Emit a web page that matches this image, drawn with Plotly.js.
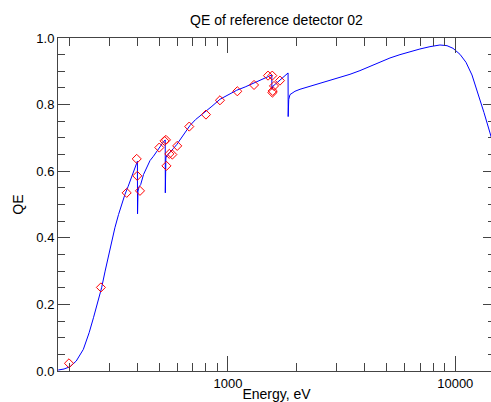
<!DOCTYPE html>
<html>
<head>
<meta charset="utf-8">
<script src="https://cdn.plot.ly/plotly-3.0.1.min.js"></script>
<style>
html,body{margin:0;padding:0;overflow:hidden;background:#fff;}
#chart{width:497px;height:402px;}
</style>
</head>
<body>
<div id="chart"></div>
<script>
// Model QE curve (energy in eV, QE)
var curveEnergy = [179,190,202,215,231,245,256,267,278,288,298,308,318,330,341,352,364,377,390,399.5,
  400,402,406,413,425,440,454,470,486,505,520,529.5,
  530,533,540,548,560,575,595,615,636,658,680,720,760,792,850,922,1000,1092,1190,1292,1400,1504,1559,
  1560,1575,1620,1700,1780,1838,
  1840,1850,1874,1971,2074,2295,2539,2810,3109,3441,3807,4213,4663,5160,5710,6318,6991,7736,8561,9194,9771,10488,11145,11843,12585,13375,14216,14950];
var curveQE = [0.003,0.006,0.013,0.030,0.065,0.115,0.160,0.205,0.250,0.300,0.345,0.390,0.430,0.470,0.503,0.530,0.555,0.585,0.612,0.630,
  0.472,0.540,0.553,0.560,0.590,0.615,0.632,0.645,0.660,0.678,0.688,0.694,
  0.535,0.640,0.648,0.652,0.660,0.668,0.680,0.694,0.709,0.722,0.737,0.755,0.768,0.776,0.795,0.816,0.828,0.843,0.853,0.864,0.876,0.885,0.889,
  0.846,0.855,0.862,0.875,0.888,0.895,
  0.764,0.815,0.830,0.840,0.846,0.855,0.864,0.873,0.881,0.891,0.902,0.915,0.928,0.940,0.950,0.959,0.967,0.974,0.979,0.977,0.969,0.951,0.927,0.889,0.836,0.776,0.715,0.662];

// Measured points
var measEnergy = [199.7,276,358.4,396.7,399,410,498.6,525.5,533.5,536,552,569,598,675.5,800,922,1099,1302,1500,1566,1573,1568,1594,1693];
var measQE = [0.023,0.251,0.535,0.637,0.586,0.541,0.671,0.691,0.694,0.616,0.652,0.650,0.676,0.734,0.770,0.813,0.840,0.859,0.887,0.887,0.841,0.836,0.856,0.872];

var xMajorTicks = [1000, 10000];
var xMajorText = ["1000", "10000"];
var xMinorTicks = [200,300,400,500,600,700,800,900,2000,3000,4000,5000,6000,7000,8000,9000];
var yMajorTicks = [0, 0.2, 0.4, 0.6, 0.8, 1.0];
var yMajorText = ["0.0", "0.2", "0.4", "0.6", "0.8", "1.0"];

var axisColor = '#444';
var fontFam = 'Liberation Sans, Arial, Helvetica, sans-serif';

var traces = [
  {x: curveEnergy, y: curveQE, type: 'scatter', mode: 'lines',
   line: {color: '#0000ff', width: 1}, hoverinfo: 'skip'},
  {x: measEnergy, y: measQE, type: 'scatter', mode: 'markers',
   marker: {symbol: 'diamond-open', size: 7, color: '#ff0000', line: {color: '#ff0000', width: 1}}}
];

var layout = {
  width: 497, height: 402,
  margin: {l: 58, r: 2, t: 38, b: 31, pad: 0},
  paper_bgcolor: '#fff', plot_bgcolor: '#fff',
  showlegend: false,
  font: {family: fontFam, size: 13, color: '#000'},
  title: {text: 'QE of reference detector 02', font: {family: fontFam, size: 14, color: '#000'},
          x: 0.5, xref: 'paper', y: 1 - 20/402, yref: 'container', yanchor: 'middle', xanchor: 'center'},
  xaxis: {
    type: 'log', range: [Math.log10(178.7), Math.log10(14953)],
    showgrid: false, zeroline: false,
    showline: true, linecolor: axisColor, linewidth: 1, mirror: 'allticks',
    ticks: 'inside', ticklen: 15, tickwidth: 1, tickcolor: axisColor,
    tickmode: 'array', tickvals: xMajorTicks, ticktext: xMajorText,
    minor: {tickmode: 'array', tickvals: xMinorTicks, ticks: 'inside', ticklen: 8, tickwidth: 1, tickcolor: axisColor, showgrid: false},
    tickfont: {family: fontFam, size: 13, color: '#000'},
    title: {text: 'Energy, eV', font: {family: fontFam, size: 14, color: '#000'}, standoff: 4},
    automargin: false
  },
  yaxis: {
    range: [0, 1],
    showgrid: false, zeroline: false,
    showline: true, linecolor: axisColor, linewidth: 1, mirror: 'allticks',
    ticks: 'inside', ticklen: 12, tickwidth: 1, tickcolor: axisColor,
    tickmode: 'array', tickvals: yMajorTicks, ticktext: yMajorText,
    minor: {dtick: 0.05, ticks: 'inside', ticklen: 7, tickwidth: 1, tickcolor: axisColor, showgrid: false},
    tickfont: {family: fontFam, size: 13, color: '#000'},
    title: {text: 'QE', font: {family: fontFam, size: 14, color: '#000'}, standoff: 9},
    automargin: false
  }
};

Plotly.newPlot('chart', traces, layout, {staticPlot: true, displayModeBar: false});
</script>
</body>
</html>
